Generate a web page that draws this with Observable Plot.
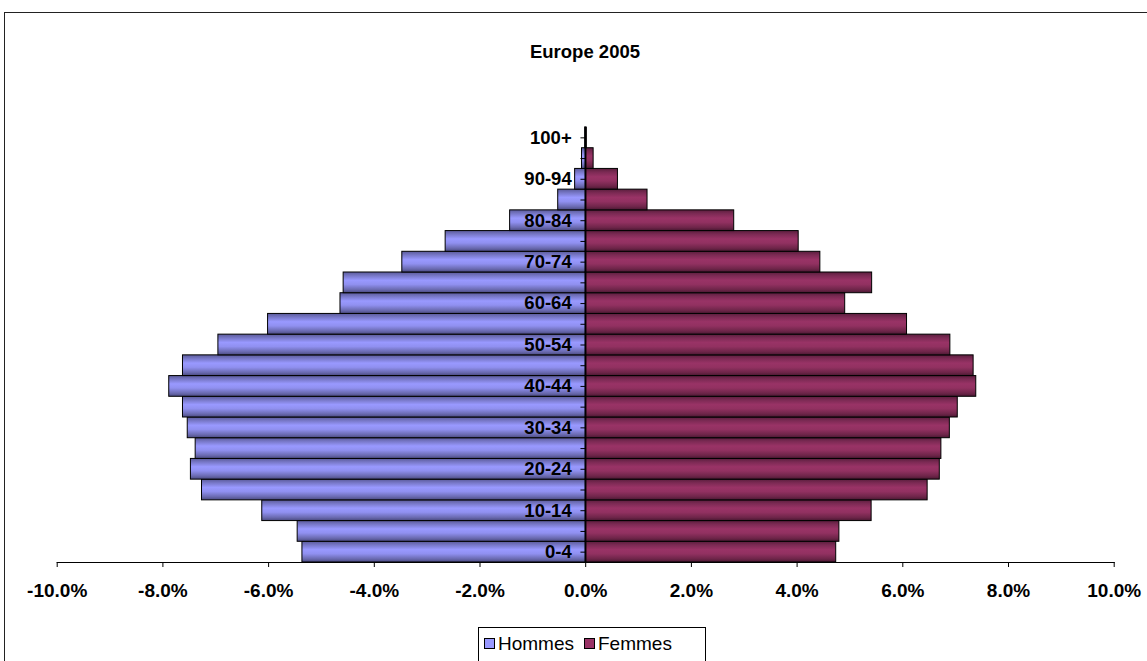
<!DOCTYPE html>
<html><head><meta charset="utf-8">
<script src="https://cdn.jsdelivr.net/npm/d3@7"></script>
<script src="https://cdn.jsdelivr.net/npm/@observablehq/plot@0.6"></script>
<style>
html,body{margin:0;padding:0;background:#fff;}
#wrap{position:relative;width:1147px;height:661px;overflow:hidden;font-family:Arial,"Liberation Sans",sans-serif;color:#000;}
#frame{position:absolute;left:4px;top:12px;width:1200px;height:700px;border:1.5px solid #222;box-sizing:border-box;}
#title{position:absolute;left:0;width:1170px;top:42px;line-height:20px;text-align:center;font-weight:bold;font-size:18.5px;}
#chart{position:absolute;left:0;top:0;}
#legend{position:absolute;left:478px;top:627px;width:228px;height:50px;border:1px solid #000;background:#fff;box-sizing:border-box;font-size:19px;}
.item{position:absolute;top:6px;line-height:20px;white-space:nowrap;}
.sw{display:inline-block;width:9px;height:9px;border:1px solid #000;margin-right:3px;vertical-align:1px;}
</style></head>
<body>
<div id="wrap">
  <div id="frame"></div>
  <svg width="0" height="0" style="position:absolute">
    <defs>
      <linearGradient id="gH" x1="0" y1="0" x2="0" y2="1">
        <stop offset="0" stop-color="#5a5a99"/>
        <stop offset="0.18" stop-color="#7878c8"/>
        <stop offset="0.4" stop-color="#9999ff"/>
        <stop offset="0.6" stop-color="#9090f0"/>
        <stop offset="0.85" stop-color="#6a6ab0"/>
        <stop offset="1" stop-color="#4a4a80"/>
      </linearGradient>
      <linearGradient id="gF" x1="0" y1="0" x2="0" y2="1">
        <stop offset="0" stop-color="#5a1e3d"/>
        <stop offset="0.18" stop-color="#7c2a54"/>
        <stop offset="0.4" stop-color="#993366"/>
        <stop offset="0.6" stop-color="#923161"/>
        <stop offset="0.85" stop-color="#6e2549"/>
        <stop offset="1" stop-color="#4a1832"/>
      </linearGradient>
    </defs>
  </svg>
  <div id="chart"></div>
  <div id="title">Europe 2005</div>
  <div id="legend">
    <span class="item" style="left:5px"><span class="sw" style="background:#9999ff"></span>Hommes</span>
    <span class="item" style="left:105px"><span class="sw" style="background:#993366"></span>Femmes</span>
  </div>
</div>
<script>
const ages = ["0-4","5-9","10-14","15-19","20-24","25-29","30-34","35-39","40-44","45-49","50-54","55-59","60-64","65-69","70-74","75-79","80-84","85-89","90-94","95-99","100+"];
const hommes = [5.36,5.45,6.12,7.26,7.47,7.38,7.53,7.62,7.88,7.62,6.95,6.01,4.64,4.58,3.47,2.65,1.43,0.52,0.20,0.07,0.01];
const femmes = [4.74,4.80,5.41,6.47,6.70,6.73,6.89,7.04,7.39,7.34,6.90,6.08,4.91,5.42,4.44,4.03,2.81,1.17,0.61,0.15,0.02];
const xTicks = [-10,-8,-6,-4,-2,0,2,4,6,8,10];
const labeledAges = ages.filter((a, i) => i % 2 === 0);

const dataH = ages.map((a, i) => ({age: a, v: -hommes[i]}));
const dataF = ages.map((a, i) => ({age: a, v: femmes[i]}));

const chart = Plot.plot({
  width: 1147,
  height: 661,
  marginLeft: 56.7,
  marginRight: 33.3,
  marginTop: 127,
  marginBottom: 99,
  style: {fontFamily: "Arial, 'Liberation Sans', sans-serif", color: "#000", background: "transparent"},
  x: {domain: [-10, 10], axis: null},
  y: {domain: ages.slice().reverse(), type: "band", padding: 0, round: false, axis: null},
  marks: [
    Plot.barX(dataH, {x1: 0, x2: "v", y: "age", fill: "url(#gH)", stroke: "#000", strokeWidth: 1}),
    Plot.barX(dataF, {x1: 0, x2: "v", y: "age", fill: "url(#gF)", stroke: "#000", strokeWidth: 1}),
    Plot.ruleX([0], {stroke: "#000", strokeWidth: 1.5}),
    Plot.ruleY(ages, {y: d => d, x1: -0.09, x2: 0, stroke: "#000", strokeWidth: 1}),
    Plot.text(labeledAges, {x: 0, y: d => d, text: d => d, textAnchor: "end", dx: -14, fontWeight: "bold", fontSize: 18.5, fill: "#000"}),
    Plot.frame({anchor: "bottom", stroke: "#000", strokeWidth: 1}),
    Plot.axisX({ticks: xTicks, tickFormat: d => d.toFixed(1) + "%", label: null, tickSize: 5, tickPadding: 16, fontSize: 19, fontWeight: "bold", stroke: "#000", fill: "#000"})
  ]
});
document.getElementById("chart").appendChild(chart);
</script>
</body></html>
